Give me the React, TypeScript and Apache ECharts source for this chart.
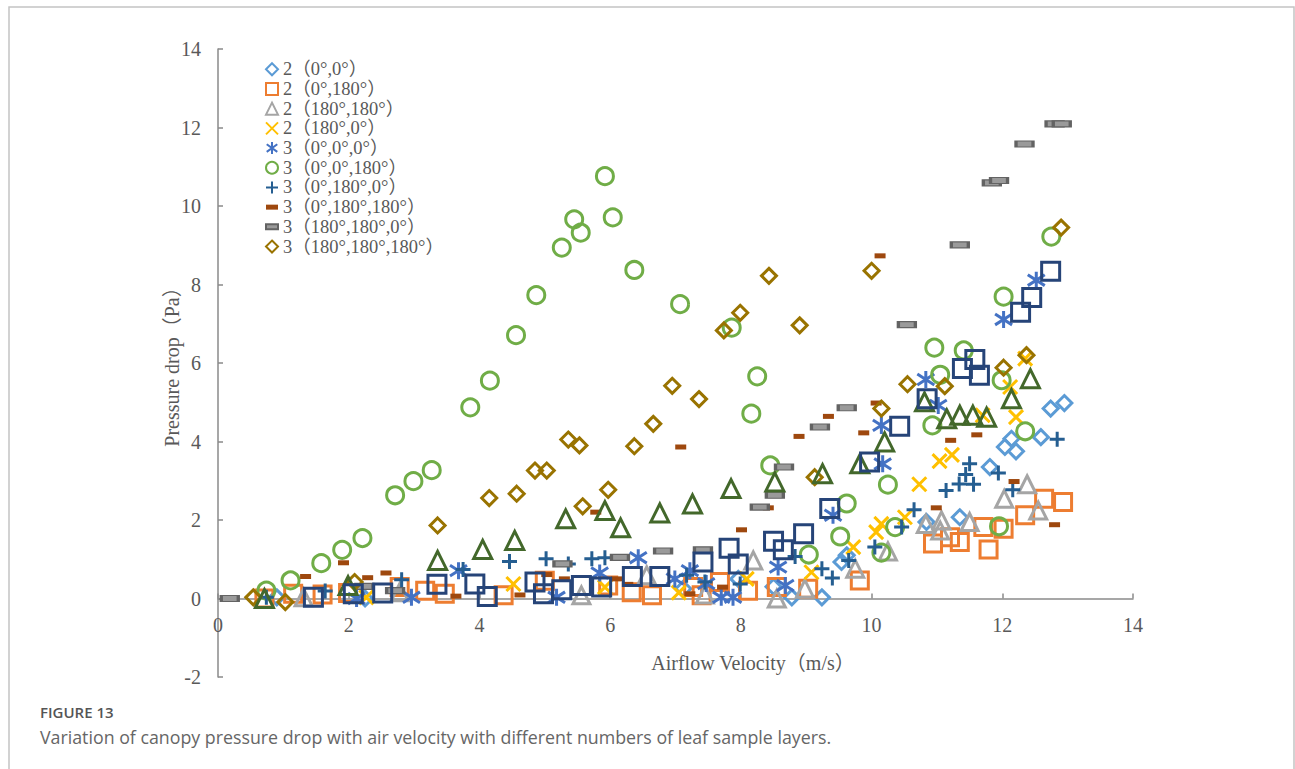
import React, { useEffect, useRef } from "react";
import * as echarts from "echarts";

// ---- data (x: airflow velocity m/s, y: pressure drop Pa) ----
const s2_0_0: number[][] = [
  [0.9, 0.03], [2.25, 0.0], [7.12, 0.25], [7.96, 0.5], [8.5, 0.3], [8.78, 0.03], [9.24, 0.03],
  [9.54, 0.93], [9.62, 1.1], [10.84, 1.95], [11.35, 2.07], [11.81, 3.35], [12.04, 3.86],
  [12.14, 4.07], [12.21, 3.75], [12.59, 4.11], [12.74, 4.84], [12.95, 4.98],
];
const s2_0_180: number[][] = [
  [0.71, 0.0], [1.15, 0.12], [1.6, 0.1], [1.99, 0.14], [2.78, 0.29], [3.17, 0.2], [3.47, 0.12],
  [4.37, 0.08], [5.0, 0.45], [5.97, 0.33], [6.33, 0.16], [6.64, 0.08], [7.27, 0.29], [7.4, 0.08],
  [7.68, 0.42], [8.11, 0.2], [8.55, 0.29], [9.03, 0.25], [9.82, 0.46], [10.94, 1.4], [11.2, 1.56],
  [11.35, 1.44], [11.71, 1.82], [11.79, 1.25], [12.02, 1.78], [12.35, 2.12], [12.64, 2.54], [12.93, 2.46],
];
const s2_180_180: number[][] = [
  [1.31, 0.03], [2.78, 0.16], [5.56, 0.08], [6.56, 0.59], [7.45, 0.1], [8.19, 0.97], [8.55, 0.0],
  [8.98, 0.25], [9.75, 0.76], [10.25, 1.2], [10.83, 1.9], [11.05, 1.73], [11.07, 1.99], [11.5, 1.95],
  [12.03, 2.54], [12.38, 2.91], [12.55, 2.24],
];
const s2_180_0: number[][] = [
  [2.27, 0.03], [4.52, 0.37], [5.92, 0.29], [7.05, 0.15], [8.09, 0.5], [9.08, 0.67], [9.72, 1.31],
  [10.07, 1.69], [10.15, 1.9], [10.51, 2.07], [10.73, 2.91], [11.04, 3.5], [11.23, 3.66], [11.7, 4.67],
  [12.12, 5.39], [12.21, 4.62], [12.35, 6.11],
];
const s3_0_0_0: number[][] = [
  [2.12, 0.0], [2.96, 0.03], [3.68, 0.71], [5.18, 0.03], [5.84, 0.65], [6.43, 1.04], [6.99, 0.5],
  [7.22, 0.71], [7.47, 0.38], [7.7, 0.03], [7.88, 0.03], [8.57, 0.8], [8.68, 0.33], [9.41, 2.12],
  [10.15, 4.41], [10.17, 3.43], [10.83, 5.58], [11.02, 4.92], [12.02, 7.11], [12.52, 8.11],
];
const s3_0_0_180: number[][] = [
  [0.74, 0.2], [1.11, 0.46], [1.58, 0.9], [1.9, 1.24], [2.21, 1.54], [2.71, 2.63], [2.99, 2.99],
  [3.27, 3.27], [3.86, 4.87], [4.16, 5.55], [4.56, 6.71], [4.87, 7.73], [5.26, 8.94], [5.45, 9.66],
  [5.55, 9.32], [5.92, 10.76], [6.04, 9.71], [6.37, 8.37], [7.07, 7.5], [7.86, 6.9], [8.16, 4.71],
  [8.25, 5.66], [8.45, 3.39], [9.04, 1.12], [9.52, 1.58], [9.62, 2.42], [10.15, 1.17], [10.25, 2.9],
  [10.36, 1.82], [10.93, 4.41], [10.96, 6.39], [11.05, 5.7], [11.41, 6.32], [11.95, 1.84],
  [11.99, 5.56], [12.02, 7.69], [12.35, 4.26], [12.75, 9.22],
];
const s3_0_180_0: number[][] = [
  [0.74, 0.03], [1.64, 0.19], [2.81, 0.48], [3.75, 0.74], [4.46, 0.94], [5.02, 1.01], [5.36, 0.88],
  [5.72, 1.01], [5.92, 1.04], [7.17, 0.59], [7.45, 0.42], [7.99, 0.37], [8.83, 1.07], [9.24, 0.76],
  [9.4, 0.52], [9.65, 0.97], [10.05, 1.31], [10.46, 1.82], [10.65, 2.26], [11.14, 2.75], [11.34, 2.92],
  [11.44, 3.16], [11.5, 3.43], [11.56, 2.91], [11.94, 3.2], [12.16, 2.77], [12.84, 4.06],
];
const s3_0_180_180: number[][] = [
  [1.34, 0.56], [1.92, 0.91], [2.29, 0.53], [2.57, 0.65], [3.64, 0.06], [4.62, 0.09], [5.03, 0.61],
  [5.3, 0.5], [5.78, 2.2], [6.1, 0.5], [6.27, 0.36], [7.08, 3.86], [7.22, 0.12], [7.72, 0.29],
  [8.01, 1.75], [8.42, 2.31], [8.89, 4.13], [9.34, 4.64], [9.88, 4.22], [10.07, 4.98], [10.13, 8.73],
  [10.99, 2.31], [11.21, 4.03], [11.61, 4.17], [12.18, 2.98], [12.8, 1.88],
];
const s3_180_180_0: number[][] = [
  [0.18, 0.0], [2.24, 0.31], [2.71, 0.2], [5.27, 0.88], [6.15, 1.05], [6.81, 1.21], [7.42, 1.24],
  [8.29, 2.33], [8.52, 2.63], [8.66, 3.35], [9.21, 4.37], [9.62, 4.86], [10.54, 6.98], [11.35, 9.01],
  [11.84, 10.59], [11.95, 10.65], [12.34, 11.58], [12.8, 12.09], [12.91, 12.09],
];
const s3_180_180_180: number[][] = [
  [0.54, 0.03], [1.03, -0.09], [2.09, 0.42], [3.36, 1.86], [4.15, 2.56], [4.57, 2.67], [4.85, 3.26],
  [5.03, 3.26], [5.36, 4.05], [5.53, 3.9], [5.58, 2.35], [5.97, 2.77], [6.37, 3.88], [6.66, 4.45],
  [6.95, 5.42], [7.36, 5.08], [7.74, 6.83], [7.99, 7.28], [8.43, 8.22], [8.9, 6.96], [9.13, 3.09],
  [10.0, 8.35], [10.15, 4.84], [10.55, 5.46], [11.12, 5.41], [12.02, 5.88], [12.37, 6.2], [12.9, 9.45],
];
const s3_180_0_0: number[][] = [
  [0.71, 0.0], [1.99, 0.33], [3.36, 0.97], [4.05, 1.25], [4.54, 1.48], [5.32, 2.03], [5.92, 2.24],
  [6.16, 1.8], [6.76, 2.18], [7.26, 2.41], [7.85, 2.8], [8.52, 2.97], [9.25, 3.18], [9.82, 3.43],
  [10.2, 3.99], [10.81, 5.01], [11.15, 4.58], [11.35, 4.67], [11.55, 4.67], [11.76, 4.62],
  [12.14, 5.09], [12.43, 5.6],
];
const s3_180_0_180: number[][] = [
  [1.46, 0.03], [2.07, 0.12], [2.52, 0.14], [3.35, 0.36], [3.93, 0.37], [4.12, 0.05], [4.85, 0.42],
  [4.98, 0.12], [5.26, 0.22], [5.56, 0.33], [5.87, 0.29], [6.34, 0.56], [6.76, 0.56], [7.42, 0.93],
  [7.82, 1.28], [7.96, 0.88], [8.5, 1.46], [8.65, 1.24], [8.96, 1.65], [9.36, 2.29], [9.97, 3.48],
  [10.43, 4.39], [10.85, 5.09], [11.39, 5.86], [11.58, 6.09], [11.65, 5.69], [12.28, 7.29],
  [12.45, 7.67], [12.74, 8.34],
];

const seriesNames = [
  "2（0°,0°）", "2（0°,180°）", "2（180°,180°）", "2（180°,0°）",
  "3（0°,0°,0°）", "3（0°,0°,180°）", "3（0°,180°,0°）", "3（0°,180°,180°）",
  "3（180°,180°,0°）", "3（180°,180°,180°）", "3（180°,0°,0°）", "3（180°,0°,180°）",
];
const legendNames = seriesNames.slice(0, 10);
const seriesData = [
  s2_0_0, s2_0_180, s2_180_180, s2_180_0, s3_0_0_0, s3_0_0_180, s3_0_180_0,
  s3_0_180_180, s3_180_180_0, s3_180_180_180, s3_180_0_0, s3_180_0_180,
];
const xAxisTitle = "Airflow Velocity（m/s）";
const yAxisTitle = "Pressure drop（Pa）";
const captionTitle = "FIGURE 13";
const captionText = "Variation of canopy pressure drop with air velocity with different numbers of leaf sample layers.";

const SERIF = '"Liberation Serif", "Times New Roman", "Noto Sans CJK SC", serif';
const TXT = "#595959";

const X_PATH = "path://M0,0L10,10M10,0L0,10";
const AST_PATH = "path://M5,0L5,10M0.6,1.8L9.4,8.2M0.6,8.2L9.4,1.8";
const PLUS_PATH = "path://M5,0L5,10M0,5L10,5";
const DASH_PATH = "path://M0,0L12,0L12,5L0,5Z";

type Style = { symbol: string; size: number | number[]; stroke?: string; fill?: string; bw?: number };
const styles: Style[] = [
  { symbol: "diamond", size: 15, stroke: "#5B9BD5", bw: 3 },
  { symbol: "rect", size: 17, stroke: "#ED7D31", bw: 3 },
  { symbol: "triangle", size: 17, stroke: "#A5A5A5", bw: 3 },
  { symbol: X_PATH, size: 14, stroke: "#FFC000", bw: 3 },
  { symbol: AST_PATH, size: 17, stroke: "#4472C4", bw: 3 },
  { symbol: "circle", size: 17, stroke: "#70AD47", bw: 3 },
  { symbol: PLUS_PATH, size: 15, stroke: "#255E91", bw: 3 },
  { symbol: DASH_PATH, size: [11, 5], fill: "#9E480E" },
  { symbol: DASH_PATH, size: [17, 6], fill: "#9a9a9a", stroke: "#636363", bw: 2 },
  { symbol: "diamond", size: 15, stroke: "#997300", bw: 3 },
  { symbol: "triangle", size: 18, stroke: "#43682B", bw: 3 },
  { symbol: "rect", size: 18, stroke: "#264478", bw: 3 },
];

export default function App() {
  const ref = useRef<HTMLDivElement>(null);
  useEffect(() => {
    if (!ref.current) return;
    const chart = echarts.init(ref.current, undefined, { renderer: "svg" });
    const series = seriesData.map((d, i) => {
      const st = styles[i];
      return {
        type: "scatter",
        name: seriesNames[i],
        data: d,
        symbol: st.symbol,
        symbolSize: st.size,
        itemStyle: {
          color: st.fill || "transparent",
          borderColor: st.stroke || st.fill,
          borderWidth: st.bw || 0,
          opacity: 1,
        },
        emphasis: { disabled: true },
      };
    });
    chart.setOption({
      animation: false,
      backgroundColor: "#fff",
      grid: { left: 218, right: 162, top: 49, bottom: 92, containLabel: false },
      legend: {
        data: legendNames,
        orient: "vertical",
        left: 260,
        top: 55,
        itemWidth: 12,
        itemHeight: 12,
        itemGap: 1.2,
        symbolKeepAspect: true,
        textStyle: { fontFamily: SERIF, fontSize: 18.5, lineHeight: 18.2, color: TXT },
        selectedMode: false,
      },
      xAxis: {
        type: "value",
        min: 0,
        max: 14,
        interval: 2,
        axisLine: { onZero: true, lineStyle: { color: "#8a8a8a", width: 1.5 } },
        axisTick: { show: true, inside: true, length: 5, lineStyle: { color: "#8a8a8a", width: 1.5 } },
        axisLabel: { margin: -62, fontFamily: SERIF, fontSize: 20, color: TXT },
        splitLine: { show: false },
      },
      yAxis: {
        type: "value",
        min: -2,
        max: 14,
        interval: 2,
        axisLine: { show: true, onZero: false, lineStyle: { color: "#8a8a8a", width: 1.5 } },
        axisTick: { show: true, inside: true, length: 5, lineStyle: { color: "#8a8a8a", width: 1.5 } },
        axisLabel: { margin: 17, fontFamily: SERIF, fontSize: 20, color: TXT },
        splitLine: { show: false },
      },
      graphic: [
        {
          type: "rect",
          silent: true,
          shape: { x: 9, y: 7, width: 1285, height: 800 },
          style: { fill: "none", stroke: "#c4c4c4", lineWidth: 1.5 },
        },
        {
          type: "text",
          x: 753,
          y: 663,
          silent: true,
          style: { text: xAxisTitle, fill: TXT, font: "20px " + SERIF, align: "center", verticalAlign: "middle" },
        },
        {
          type: "text",
          x: 172,
          y: 362,
          rotation: Math.PI / 2,
          silent: true,
          style: { text: yAxisTitle, fill: TXT, font: "20px " + SERIF, align: "center", verticalAlign: "middle" },
        },
        {
          type: "text",
          x: 40,
          y: 712,
          silent: true,
          style: { text: captionTitle, fill: "#555", font: '600 15px "Open Sans", sans-serif', verticalAlign: "middle" },
        },
        {
          type: "text",
          x: 40,
          y: 737,
          silent: true,
          style: { text: captionText, fill: "#666", font: '17.8px "Open Sans", sans-serif', verticalAlign: "middle" },
        },
      ],
      series,
    });
    return () => chart.dispose();
  }, []);
  return (
    <div
      ref={ref}
      style={{ position: "absolute", left: 0, top: 0, width: 1295, height: 769, background: "#fff" }}
    />
  );
}
